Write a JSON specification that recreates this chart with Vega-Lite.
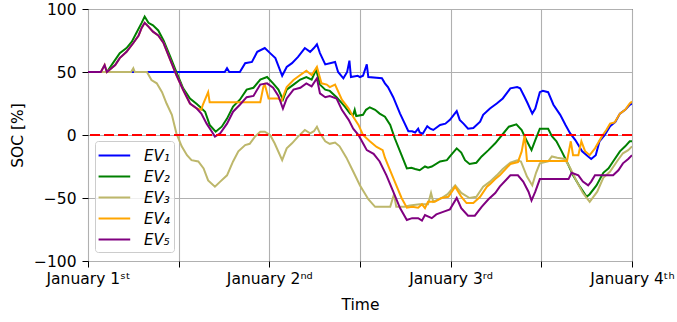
{
  "$schema": "https://vega.github.io/schema/vega-lite/v6.json",
  "width": 544,
  "height": 252,
  "autosize": {"type": "none"},
  "padding": {"left": 88, "top": 9, "right": 45, "bottom": 61},
  "config": {
    "font": "DejaVu Sans",
    "view": {"stroke": "#000000", "strokeWidth": 1},
    "axis": {
      "labelFont": "DejaVu Sans", "labelFontSize": 15.5, "labelColor": "#000000",
      "titleFont": "DejaVu Sans", "titleFontSize": 15.5, "titleFontWeight": "normal", "titleColor": "#000000",
      "tickColor": "#000000", "tickSize": 6, "domain": false,
      "gridColor": "#b0b0b0", "gridWidth": 1.1
    }
  },
  "layer": [
    {
      "data": {"values": [
        {"ev":"EV₁","t":0,"soc":50},{"ev":"EV₁","t":18.1,"soc":50},{"ev":"EV₁","t":18.4,"soc":53},{"ev":"EV₁","t":18.7,"soc":50},{"ev":"EV₁","t":20.1,"soc":50},{"ev":"EV₁","t":20.8,"soc":57},{"ev":"EV₁","t":21.7,"soc":58},{"ev":"EV₁","t":22.4,"soc":66},{"ev":"EV₁","t":23.4,"soc":69},{"ev":"EV₁","t":24.1,"soc":65},{"ev":"EV₁","t":24.8,"soc":61},{"ev":"EV₁","t":25.7,"soc":47},{"ev":"EV₁","t":26.3,"soc":54},{"ev":"EV₁","t":27.0,"soc":57},{"ev":"EV₁","t":27.8,"soc":62},{"ev":"EV₁","t":28.7,"soc":69},{"ev":"EV₁","t":29.4,"soc":66},{"ev":"EV₁","t":29.9,"soc":69},{"ev":"EV₁","t":30.3,"soc":72},{"ev":"EV₁","t":30.7,"soc":65},{"ev":"EV₁","t":31.4,"soc":56},{"ev":"EV₁","t":32.7,"soc":58},{"ev":"EV₁","t":33.1,"soc":50},{"ev":"EV₁","t":33.8,"soc":45},{"ev":"EV₁","t":34.3,"soc":50},{"ev":"EV₁","t":34.6,"soc":59},{"ev":"EV₁","t":34.8,"soc":46},{"ev":"EV₁","t":35.7,"soc":47},{"ev":"EV₁","t":36.0,"soc":46},{"ev":"EV₁","t":36.4,"soc":47},{"ev":"EV₁","t":36.9,"soc":56},{"ev":"EV₁","t":37.1,"soc":46},{"ev":"EV₁","t":38.9,"soc":45},{"ev":"EV₁","t":39.3,"soc":41},{"ev":"EV₁","t":39.7,"soc":38},{"ev":"EV₁","t":40.4,"soc":30},{"ev":"EV₁","t":41.3,"soc":17},{"ev":"EV₁","t":42.4,"soc":3},{"ev":"EV₁","t":42.9,"soc":3},{"ev":"EV₁","t":43.3,"soc":2},{"ev":"EV₁","t":43.7,"soc":5},{"ev":"EV₁","t":43.9,"soc":2},{"ev":"EV₁","t":44.3,"soc":1},{"ev":"EV₁","t":44.9,"soc":7},{"ev":"EV₁","t":45.3,"soc":5},{"ev":"EV₁","t":45.7,"soc":4},{"ev":"EV₁","t":46.6,"soc":8},{"ev":"EV₁","t":47.3,"soc":9},{"ev":"EV₁","t":47.9,"soc":12},{"ev":"EV₁","t":48.8,"soc":19},{"ev":"EV₁","t":49.2,"soc":12},{"ev":"EV₁","t":49.7,"soc":9},{"ev":"EV₁","t":50.3,"soc":5},{"ev":"EV₁","t":51.0,"soc":5.5},{"ev":"EV₁","t":51.9,"soc":10.5},{"ev":"EV₁","t":52.3,"soc":16},{"ev":"EV₁","t":53.2,"soc":21},{"ev":"EV₁","t":54.1,"soc":25},{"ev":"EV₁","t":54.9,"soc":29},{"ev":"EV₁","t":55.9,"soc":37},{"ev":"EV₁","t":56.8,"soc":38},{"ev":"EV₁","t":57.2,"soc":37},{"ev":"EV₁","t":57.8,"soc":30},{"ev":"EV₁","t":58.2,"soc":25},{"ev":"EV₁","t":58.8,"soc":17},{"ev":"EV₁","t":59.2,"soc":21},{"ev":"EV₁","t":59.8,"soc":34},{"ev":"EV₁","t":60.2,"soc":35},{"ev":"EV₁","t":60.9,"soc":34},{"ev":"EV₁","t":61.6,"soc":24},{"ev":"EV₁","t":62.5,"soc":16},{"ev":"EV₁","t":63.2,"soc":8},{"ev":"EV₁","t":63.8,"soc":1.5},{"ev":"EV₁","t":64.5,"soc":-4},{"ev":"EV₁","t":64.9,"soc":-8},{"ev":"EV₁","t":65.4,"soc":-13},{"ev":"EV₁","t":66.2,"soc":-17},{"ev":"EV₁","t":66.6,"soc":-19},{"ev":"EV₁","t":67.2,"soc":-16},{"ev":"EV₁","t":67.7,"soc":-5},{"ev":"EV₁","t":68.4,"soc":0},{"ev":"EV₁","t":69.1,"soc":7},{"ev":"EV₁","t":69.8,"soc":10.5},{"ev":"EV₁","t":70.4,"soc":17},{"ev":"EV₁","t":71.1,"soc":20},{"ev":"EV₁","t":71.7,"soc":24},{"ev":"EV₁","t":72,"soc":25},

        {"ev":"EV₂","t":0,"soc":50},{"ev":"EV₂","t":2.5,"soc":50},{"ev":"EV₂","t":3.3,"soc":57},{"ev":"EV₂","t":4.2,"soc":65},{"ev":"EV₂","t":5.1,"soc":69},{"ev":"EV₂","t":5.8,"soc":74},{"ev":"EV₂","t":6.4,"soc":81},{"ev":"EV₂","t":7.1,"soc":89},{"ev":"EV₂","t":7.5,"soc":94},{"ev":"EV₂","t":8.0,"soc":89},{"ev":"EV₂","t":8.6,"soc":87},{"ev":"EV₂","t":9.3,"soc":83},{"ev":"EV₂","t":10.0,"soc":75},{"ev":"EV₂","t":10.9,"soc":62},{"ev":"EV₂","t":11.7,"soc":50},{"ev":"EV₂","t":12.6,"soc":37},{"ev":"EV₂","t":13.5,"soc":29},{"ev":"EV₂","t":14.4,"soc":24.6},{"ev":"EV₂","t":14.8,"soc":22.5},{"ev":"EV₂","t":15.5,"soc":18.5},{"ev":"EV₂","t":16.1,"soc":8},{"ev":"EV₂","t":16.9,"soc":2.6},{"ev":"EV₂","t":17.7,"soc":6.6},{"ev":"EV₂","t":18.4,"soc":13},{"ev":"EV₂","t":19.2,"soc":22.5},{"ev":"EV₂","t":20.1,"soc":28},{"ev":"EV₂","t":21.0,"soc":36},{"ev":"EV₂","t":21.9,"soc":37.5},{"ev":"EV₂","t":22.8,"soc":44},{"ev":"EV₂","t":23.7,"soc":46},{"ev":"EV₂","t":24.5,"soc":41},{"ev":"EV₂","t":25.2,"soc":36},{"ev":"EV₂","t":25.8,"soc":28},{"ev":"EV₂","t":26.3,"soc":36},{"ev":"EV₂","t":27.2,"soc":40},{"ev":"EV₂","t":28.1,"soc":44},{"ev":"EV₂","t":28.9,"soc":46},{"ev":"EV₂","t":29.6,"soc":44},{"ev":"EV₂","t":30.2,"soc":52},{"ev":"EV₂","t":30.7,"soc":40},{"ev":"EV₂","t":31.4,"soc":36},{"ev":"EV₂","t":32.0,"soc":35},{"ev":"EV₂","t":32.9,"soc":30},{"ev":"EV₂","t":34.0,"soc":22.5},{"ev":"EV₂","t":34.7,"soc":17},{"ev":"EV₂","t":35.1,"soc":16},{"ev":"EV₂","t":35.3,"soc":20},{"ev":"EV₂","t":35.5,"soc":15},{"ev":"EV₂","t":36.4,"soc":16},{"ev":"EV₂","t":36.8,"soc":20},{"ev":"EV₂","t":37.3,"soc":22},{"ev":"EV₂","t":38.0,"soc":20},{"ev":"EV₂","t":38.6,"soc":17},{"ev":"EV₂","t":39.3,"soc":14.5},{"ev":"EV₂","t":40.0,"soc":8},{"ev":"EV₂","t":40.6,"soc":-2.6},{"ev":"EV₂","t":41.5,"soc":-16},{"ev":"EV₂","t":42.2,"soc":-26.5},{"ev":"EV₂","t":42.8,"soc":-26},{"ev":"EV₂","t":43.3,"soc":-27},{"ev":"EV₂","t":43.9,"soc":-28},{"ev":"EV₂","t":44.6,"soc":-25},{"ev":"EV₂","t":45.0,"soc":-26},{"ev":"EV₂","t":45.5,"soc":-25},{"ev":"EV₂","t":46.6,"soc":-21},{"ev":"EV₂","t":47.5,"soc":-20},{"ev":"EV₂","t":47.9,"soc":-17},{"ev":"EV₂","t":48.8,"soc":-10.6},{"ev":"EV₂","t":49.4,"soc":-14},{"ev":"EV₂","t":49.9,"soc":-20},{"ev":"EV₂","t":50.5,"soc":-23},{"ev":"EV₂","t":51.4,"soc":-22},{"ev":"EV₂","t":52.1,"soc":-17},{"ev":"EV₂","t":53.0,"soc":-12},{"ev":"EV₂","t":53.9,"soc":-6.6},{"ev":"EV₂","t":54.8,"soc":0},{"ev":"EV₂","t":55.7,"soc":6.6},{"ev":"EV₂","t":56.7,"soc":8.5},{"ev":"EV₂","t":57.4,"soc":4},{"ev":"EV₂","t":58.1,"soc":-5},{"ev":"EV₂","t":58.7,"soc":-12},{"ev":"EV₂","t":59.2,"soc":-4},{"ev":"EV₂","t":59.8,"soc":5},{"ev":"EV₂","t":60.9,"soc":5},{"ev":"EV₂","t":61.4,"soc":-1},{"ev":"EV₂","t":62.0,"soc":-5},{"ev":"EV₂","t":62.7,"soc":-13},{"ev":"EV₂","t":63.6,"soc":-24},{"ev":"EV₂","t":64.2,"soc":-32},{"ev":"EV₂","t":65.1,"soc":-41},{"ev":"EV₂","t":66.0,"soc":-49},{"ev":"EV₂","t":66.4,"soc":-47},{"ev":"EV₂","t":67.3,"soc":-40},{"ev":"EV₂","t":68.2,"soc":-30},{"ev":"EV₂","t":68.9,"soc":-26.5},{"ev":"EV₂","t":69.5,"soc":-21},{"ev":"EV₂","t":70.4,"soc":-13},{"ev":"EV₂","t":71.1,"soc":-9},{"ev":"EV₂","t":71.7,"soc":-5},{"ev":"EV₂","t":72,"soc":-5},

        {"ev":"EV₃","t":0,"soc":50},{"ev":"EV₃","t":5.7,"soc":50},{"ev":"EV₃","t":6.0,"soc":53},{"ev":"EV₃","t":6.2,"soc":50},{"ev":"EV₃","t":7.8,"soc":50},{"ev":"EV₃","t":8.4,"soc":43.6},{"ev":"EV₃","t":9.1,"soc":41},{"ev":"EV₃","t":9.8,"soc":34},{"ev":"EV₃","t":10.4,"soc":25},{"ev":"EV₃","t":11.1,"soc":16},{"ev":"EV₃","t":11.7,"soc":1.3},{"ev":"EV₃","t":12.4,"soc":-9},{"ev":"EV₃","t":13.1,"soc":-16},{"ev":"EV₃","t":13.7,"soc":-20},{"ev":"EV₃","t":14.6,"soc":-21},{"ev":"EV₃","t":15.3,"soc":-26.5},{"ev":"EV₃","t":15.9,"soc":-36},{"ev":"EV₃","t":16.8,"soc":-41},{"ev":"EV₃","t":17.5,"soc":-37},{"ev":"EV₃","t":18.4,"soc":-32},{"ev":"EV₃","t":19.2,"soc":-21},{"ev":"EV₃","t":19.9,"soc":-13},{"ev":"EV₃","t":20.8,"soc":-8},{"ev":"EV₃","t":21.4,"soc":-7},{"ev":"EV₃","t":22.1,"soc":-1.3},{"ev":"EV₃","t":22.8,"soc":2.6},{"ev":"EV₃","t":23.4,"soc":2.6},{"ev":"EV₃","t":24.1,"soc":0},{"ev":"EV₃","t":24.7,"soc":-6.6},{"ev":"EV₃","t":25.7,"soc":-20},{"ev":"EV₃","t":26.3,"soc":-10.6},{"ev":"EV₃","t":27.0,"soc":-6.6},{"ev":"EV₃","t":27.8,"soc":-1.3},{"ev":"EV₃","t":28.7,"soc":4},{"ev":"EV₃","t":29.4,"soc":1.3},{"ev":"EV₃","t":29.9,"soc":3},{"ev":"EV₃","t":30.3,"soc":6.6},{"ev":"EV₃","t":30.7,"soc":1.3},{"ev":"EV₃","t":31.4,"soc":-5},{"ev":"EV₃","t":32.0,"soc":-7},{"ev":"EV₃","t":32.7,"soc":-6},{"ev":"EV₃","t":33.3,"soc":-9},{"ev":"EV₃","t":34.2,"soc":-18},{"ev":"EV₃","t":35.1,"soc":-29},{"ev":"EV₃","t":36.0,"soc":-40},{"ev":"EV₃","t":37.1,"soc":-51},{"ev":"EV₃","t":38.0,"soc":-57},{"ev":"EV₃","t":40.0,"soc":-57},{"ev":"EV₃","t":40.5,"soc":-47},{"ev":"EV₃","t":40.8,"soc":-57},{"ev":"EV₃","t":41.9,"soc":-57},{"ev":"EV₃","t":42.6,"soc":-56},{"ev":"EV₃","t":43.9,"soc":-55},{"ev":"EV₃","t":45.0,"soc":-55},{"ev":"EV₃","t":45.4,"soc":-46},{"ev":"EV₃","t":45.7,"soc":-53},{"ev":"EV₃","t":46.8,"soc":-50},{"ev":"EV₃","t":47.6,"soc":-47},{"ev":"EV₃","t":48.6,"soc":-40},{"ev":"EV₃","t":49.4,"soc":-46},{"ev":"EV₃","t":50.5,"soc":-50},{"ev":"EV₃","t":51.4,"soc":-49},{"ev":"EV₃","t":52.3,"soc":-41},{"ev":"EV₃","t":53.2,"soc":-37},{"ev":"EV₃","t":54.1,"soc":-32},{"ev":"EV₃","t":54.9,"soc":-27},{"ev":"EV₃","t":55.9,"soc":-22},{"ev":"EV₃","t":56.8,"soc":-20},{"ev":"EV₃","t":57.3,"soc":-21},{"ev":"EV₃","t":58.1,"soc":-33},{"ev":"EV₃","t":58.8,"soc":-40},{"ev":"EV₃","t":59.3,"soc":-30},{"ev":"EV₃","t":59.8,"soc":-22.5},{"ev":"EV₃","t":60.9,"soc":-21},{"ev":"EV₃","t":61.4,"soc":-17},{"ev":"EV₃","t":62.1,"soc":-18},{"ev":"EV₃","t":63.1,"soc":-19},{"ev":"EV₃","t":63.8,"soc":-26},{"ev":"EV₃","t":64.7,"soc":-37},{"ev":"EV₃","t":65.5,"soc":-46},{"ev":"EV₃","t":66.4,"soc":-53},{"ev":"EV₃","t":67.4,"soc":-45},{"ev":"EV₃","t":68.2,"soc":-34},{"ev":"EV₃","t":69.1,"soc":-29},{"ev":"EV₃","t":70.0,"soc":-21},{"ev":"EV₃","t":70.8,"soc":-14.5},{"ev":"EV₃","t":71.5,"soc":-12},{"ev":"EV₃","t":72,"soc":-9},

        {"ev":"EV₄","t":0,"soc":50},{"ev":"EV₄","t":1.7,"soc":50},{"ev":"EV₄","t":2.2,"soc":55.5},{"ev":"EV₄","t":2.5,"soc":50},{"ev":"EV₄","t":2.9,"soc":52},{"ev":"EV₄","t":3.6,"soc":55.5},{"ev":"EV₄","t":4.2,"soc":61},{"ev":"EV₄","t":5.1,"soc":66},{"ev":"EV₄","t":6.0,"soc":73},{"ev":"EV₄","t":6.7,"soc":79},{"ev":"EV₄","t":7.1,"soc":85},{"ev":"EV₄","t":7.5,"soc":89},{"ev":"EV₄","t":8.0,"soc":86},{"ev":"EV₄","t":8.6,"soc":82},{"ev":"EV₄","t":9.3,"soc":79},{"ev":"EV₄","t":10.0,"soc":73},{"ev":"EV₄","t":10.9,"soc":59.5},{"ev":"EV₄","t":11.7,"soc":47.6},{"ev":"EV₄","t":12.6,"soc":35.7},{"ev":"EV₄","t":13.5,"soc":25},{"ev":"EV₄","t":14.4,"soc":21},{"ev":"EV₄","t":15.0,"soc":20},{"ev":"EV₄","t":15.2,"soc":24},{"ev":"EV₄","t":15.9,"soc":34},{"ev":"EV₄","t":16.1,"soc":26},{"ev":"EV₄","t":22.8,"soc":26},{"ev":"EV₄","t":23.2,"soc":38},{"ev":"EV₄","t":23.4,"soc":40},{"ev":"EV₄","t":23.9,"soc":29},{"ev":"EV₄","t":25.2,"soc":29},{"ev":"EV₄","t":25.6,"soc":27},{"ev":"EV₄","t":26.3,"soc":38},{"ev":"EV₄","t":27.2,"soc":43.6},{"ev":"EV₄","t":28.1,"soc":47.6},{"ev":"EV₄","t":28.9,"soc":51},{"ev":"EV₄","t":29.6,"soc":47.6},{"ev":"EV₄","t":30.3,"soc":54},{"ev":"EV₄","t":30.9,"soc":41},{"ev":"EV₄","t":31.6,"soc":40},{"ev":"EV₄","t":32.0,"soc":38},{"ev":"EV₄","t":32.7,"soc":40},{"ev":"EV₄","t":33.6,"soc":28},{"ev":"EV₄","t":34.5,"soc":21},{"ev":"EV₄","t":35.1,"soc":14.5},{"ev":"EV₄","t":35.8,"soc":8},{"ev":"EV₄","t":36.4,"soc":0},{"ev":"EV₄","t":37.3,"soc":-5},{"ev":"EV₄","t":38.2,"soc":-9.5},{"ev":"EV₄","t":39.0,"soc":-12},{"ev":"EV₄","t":39.3,"soc":-18},{"ev":"EV₄","t":39.7,"soc":-24},{"ev":"EV₄","t":40.6,"soc":-37},{"ev":"EV₄","t":41.5,"soc":-50},{"ev":"EV₄","t":42.2,"soc":-57.7},{"ev":"EV₄","t":42.9,"soc":-57},{"ev":"EV₄","t":43.7,"soc":-57.7},{"ev":"EV₄","t":44.2,"soc":-55},{"ev":"EV₄","t":44.6,"soc":-58},{"ev":"EV₄","t":45.0,"soc":-53},{"ev":"EV₄","t":45.9,"soc":-53},{"ev":"EV₄","t":46.8,"soc":-50},{"ev":"EV₄","t":47.7,"soc":-49},{"ev":"EV₄","t":48.6,"soc":-41},{"ev":"EV₄","t":49.4,"soc":-49},{"ev":"EV₄","t":50.1,"soc":-54},{"ev":"EV₄","t":51.0,"soc":-54},{"ev":"EV₄","t":51.9,"soc":-49},{"ev":"EV₄","t":52.8,"soc":-41},{"ev":"EV₄","t":53.2,"soc":-39},{"ev":"EV₄","t":53.9,"soc":-35},{"ev":"EV₄","t":54.5,"soc":-32},{"ev":"EV₄","t":55.9,"soc":-23},{"ev":"EV₄","t":56.9,"soc":-21.5},{"ev":"EV₄","t":57.4,"soc":-13},{"ev":"EV₄","t":57.8,"soc":0},{"ev":"EV₄","t":58.1,"soc":-20.6},{"ev":"EV₄","t":63.4,"soc":-20.6},{"ev":"EV₄","t":63.9,"soc":-5},{"ev":"EV₄","t":64.2,"soc":-16},{"ev":"EV₄","t":64.9,"soc":-16},{"ev":"EV₄","t":65.3,"soc":-5},{"ev":"EV₄","t":65.8,"soc":-13},{"ev":"EV₄","t":66.4,"soc":-16},{"ev":"EV₄","t":67.1,"soc":-10.6},{"ev":"EV₄","t":68.0,"soc":-1.3},{"ev":"EV₄","t":68.6,"soc":4},{"ev":"EV₄","t":69.1,"soc":9},{"ev":"EV₄","t":69.7,"soc":10},{"ev":"EV₄","t":70.4,"soc":17},{"ev":"EV₄","t":71.1,"soc":20},{"ev":"EV₄","t":71.7,"soc":25},{"ev":"EV₄","t":72,"soc":26.5},

        {"ev":"EV₅","t":0,"soc":50},{"ev":"EV₅","t":1.7,"soc":50},{"ev":"EV₅","t":2.2,"soc":55.5},{"ev":"EV₅","t":2.5,"soc":50},{"ev":"EV₅","t":2.9,"soc":52},{"ev":"EV₅","t":3.6,"soc":55.5},{"ev":"EV₅","t":4.2,"soc":61},{"ev":"EV₅","t":5.1,"soc":66},{"ev":"EV₅","t":6.0,"soc":73},{"ev":"EV₅","t":6.7,"soc":79},{"ev":"EV₅","t":7.1,"soc":85},{"ev":"EV₅","t":7.5,"soc":89},{"ev":"EV₅","t":8.0,"soc":86},{"ev":"EV₅","t":8.6,"soc":82},{"ev":"EV₅","t":9.3,"soc":79},{"ev":"EV₅","t":10.0,"soc":73},{"ev":"EV₅","t":10.9,"soc":59.5},{"ev":"EV₅","t":11.7,"soc":47.6},{"ev":"EV₅","t":12.6,"soc":35.7},{"ev":"EV₅","t":13.5,"soc":25},{"ev":"EV₅","t":14.4,"soc":21},{"ev":"EV₅","t":15.0,"soc":17},{"ev":"EV₅","t":15.7,"soc":9},{"ev":"EV₅","t":16.4,"soc":2.6},{"ev":"EV₅","t":16.8,"soc":-1.3},{"ev":"EV₅","t":17.5,"soc":1.3},{"ev":"EV₅","t":18.4,"soc":9},{"ev":"EV₅","t":19.2,"soc":18.5},{"ev":"EV₅","t":20.1,"soc":24},{"ev":"EV₅","t":21.0,"soc":30},{"ev":"EV₅","t":21.9,"soc":31},{"ev":"EV₅","t":22.8,"soc":40},{"ev":"EV₅","t":23.7,"soc":41},{"ev":"EV₅","t":24.5,"soc":37.5},{"ev":"EV₅","t":25.2,"soc":31},{"ev":"EV₅","t":25.8,"soc":21},{"ev":"EV₅","t":26.3,"soc":29},{"ev":"EV₅","t":27.2,"soc":36},{"ev":"EV₅","t":28.1,"soc":37.5},{"ev":"EV₅","t":28.9,"soc":41},{"ev":"EV₅","t":29.6,"soc":38.6},{"ev":"EV₅","t":30.3,"soc":45},{"ev":"EV₅","t":30.7,"soc":33},{"ev":"EV₅","t":31.4,"soc":30},{"ev":"EV₅","t":32.0,"soc":31},{"ev":"EV₅","t":32.9,"soc":29},{"ev":"EV₅","t":33.6,"soc":20},{"ev":"EV₅","t":34.5,"soc":12},{"ev":"EV₅","t":35.1,"soc":5},{"ev":"EV₅","t":35.8,"soc":0},{"ev":"EV₅","t":36.4,"soc":-6.6},{"ev":"EV₅","t":36.9,"soc":-12},{"ev":"EV₅","t":37.8,"soc":-15},{"ev":"EV₅","t":38.6,"soc":-21},{"ev":"EV₅","t":39.5,"soc":-32},{"ev":"EV₅","t":40.4,"soc":-45},{"ev":"EV₅","t":41.3,"soc":-58},{"ev":"EV₅","t":42.2,"soc":-67.5},{"ev":"EV₅","t":42.9,"soc":-66},{"ev":"EV₅","t":43.7,"soc":-66},{"ev":"EV₅","t":44.2,"soc":-68},{"ev":"EV₅","t":44.6,"soc":-63.5},{"ev":"EV₅","t":45.5,"soc":-66},{"ev":"EV₅","t":46.1,"soc":-63},{"ev":"EV₅","t":47.0,"soc":-61},{"ev":"EV₅","t":47.9,"soc":-59},{"ev":"EV₅","t":48.8,"soc":-50},{"ev":"EV₅","t":49.4,"soc":-58},{"ev":"EV₅","t":50.3,"soc":-64},{"ev":"EV₅","t":51.2,"soc":-64},{"ev":"EV₅","t":52.1,"soc":-57},{"ev":"EV₅","t":53.0,"soc":-51},{"ev":"EV₅","t":53.9,"soc":-46},{"ev":"EV₅","t":54.5,"soc":-41},{"ev":"EV₅","t":55.9,"soc":-32},{"ev":"EV₅","t":56.9,"soc":-32},{"ev":"EV₅","t":57.6,"soc":-37},{"ev":"EV₅","t":58.3,"soc":-45},{"ev":"EV₅","t":58.7,"soc":-52},{"ev":"EV₅","t":59.2,"soc":-45},{"ev":"EV₅","t":59.8,"soc":-35},{"ev":"EV₅","t":63.6,"soc":-35},{"ev":"EV₅","t":64.0,"soc":-30},{"ev":"EV₅","t":64.9,"soc":-32},{"ev":"EV₅","t":65.5,"soc":-37},{"ev":"EV₅","t":66.2,"soc":-40},{"ev":"EV₅","t":66.6,"soc":-37},{"ev":"EV₅","t":67.1,"soc":-32},{"ev":"EV₅","t":69.5,"soc":-32},{"ev":"EV₅","t":70.2,"soc":-28},{"ev":"EV₅","t":70.8,"soc":-22.5},{"ev":"EV₅","t":71.5,"soc":-19},{"ev":"EV₅","t":72,"soc":-16}
      ]},
      "mark": {"type": "line", "strokeWidth": 2, "clip": true},
      "encoding": {
        "x": {
          "field": "t", "type": "quantitative",
          "scale": {"domain": [0, 72], "nice": false, "zero": false},
          "axis": {
            "values": [0, 12, 24, 36, 48, 60, 72],
            "labelExpr": "datum.value == 0 ? 'January 1ˢᵗ' : datum.value == 24 ? 'January 2ⁿᵈ' : datum.value == 48 ? 'January 3ʳᵈ' : datum.value == 72 ? 'January 4ᵗʰ' : ''",
            "labelFlush": false, "labelOverlap": false, "labelBound": false,
            "labelPadding": 4, "title": "Time", "titlePadding": 11
          }
        },
        "y": {
          "field": "soc", "type": "quantitative",
          "scale": {"domain": [-100, 100], "nice": false},
          "axis": {"values": [-100, -50, 0, 50, 100], "title": "SOC [%]", "labelPadding": 6, "titlePadding": 8}
        },
        "color": {
          "field": "ev", "type": "nominal",
          "scale": {"domain": ["EV₁", "EV₂", "EV₃", "EV₄", "EV₅"], "range": ["#0000ff", "#008000", "#bdb76b", "#ffa500", "#800080"]},
          "legend": {
            "orient": "none", "legendX": 7, "legendY": 132, "title": null,
            "symbolType": "M-1.15,0L2.18,0", "symbolSize": 361, "symbolStrokeWidth": 2,
            "labelFont": "DejaVu Sans", "labelFontSize": 15, "labelFontStyle": "italic", "labelColor": "#000000",
            "fillColor": "rgba(255,255,255,0.8)", "strokeColor": "#cccccc", "cornerRadius": 3,
            "padding": 4, "rowPadding": 2, "labelOffset": 24
          }
        }
      }
    },
    {
      "data": {"values": [{}]},
      "mark": {"type": "rule", "color": "#ff0000", "strokeDash": [10, 4], "strokeWidth": 2},
      "encoding": {"y": {"datum": 0}}
    }
  ]
}
